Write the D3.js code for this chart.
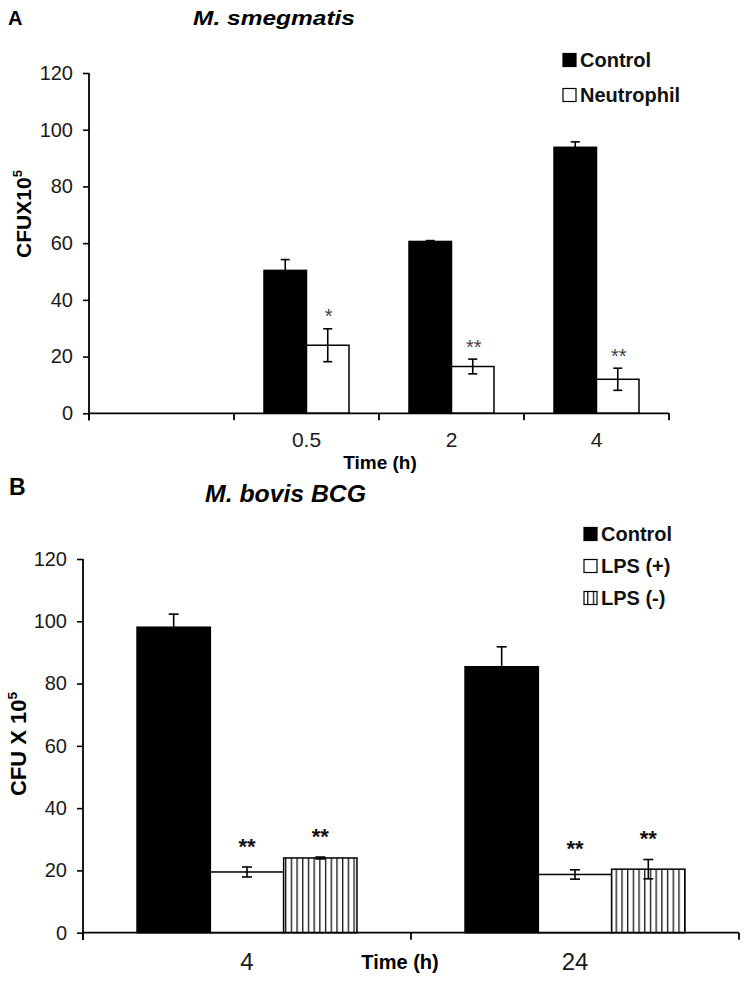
<!DOCTYPE html>
<html>
<head>
<meta charset="utf-8">
<script src="https://cdn.jsdelivr.net/npm/d3@7"></script>
<style>
  html, body { margin: 0; padding: 0; background: #fff; }
  svg { display: block; font-family: "Liberation Sans", Arial, sans-serif; }
</style>
</head>
<body>
<svg id="chart" width="747" height="983"></svg>
<script>
// ---------- Panel A data ----------
const timesA = ["", "0.5", "2", "4"];
const seriesA = ["Control", "Neutrophil"];
const controlA = [null, 50.4, 60.6, 93.8];
const controlErrA = [null, 3.8, 0.3, 1.9];
const neutrophilA = [null, 24.0, 16.5, 12.0];
const neutrophilErrA = [null, 5.8, 2.6, 3.9];
const sigNeutrophilA = ["", "*", "**", "**"];
const yTicksA = [0, 20, 40, 60, 80, 100, 120];

// ---------- Panel B data ----------
const timesB = ["4", "24"];
const seriesB = ["Control", "LPS (+)", "LPS (-)"];
const controlB = [98.1, 85.4];
const controlErrB = [4.2, 6.4];
const lpsPlusB = [19.5, 18.7];
const lpsPlusErrB = [1.6, 1.5];
const lpsMinusB = [24.0, 20.4];
const lpsMinusErrB = [0.3, 3.1];
const sigLpsPlusB = ["**", "**"];
const sigLpsMinusB = ["**", "**"];
const yTicksB = [0, 20, 40, 60, 80, 100, 120];

const svg = d3.select("#chart");
const defs = svg.append("defs");
const pat = defs.append("pattern")
  .attr("id", "vstripes").attr("patternUnits", "userSpaceOnUse")
  .attr("width", 5.7).attr("height", 10);
pat.append("rect").attr("width", 5.7).attr("height", 10).attr("fill", "#fff");
pat.append("line").attr("x1", 0.7).attr("x2", 0.7).attr("y1", 0).attr("y2", 10)
  .attr("stroke", "#000").attr("stroke-width", 1.2);

const fillFor = { "Control": "#000", "Neutrophil": "#fff", "LPS (+)": "#fff", "LPS (-)": "url(#vstripes)" };

function drawPanel(cfg) {
  const g = svg.append("g");
  const x0 = d3.scaleBand().domain(cfg.times).range([cfg.left, cfg.right]).paddingInner(0).paddingOuter(0);
  const x1 = d3.scaleBand().domain(cfg.series).range([0, x0.bandwidth()]).paddingInner(0).paddingOuter(cfg.outerPad);
  const y = d3.scaleLinear().domain([0, 120]).range([cfg.bottom, cfg.top]);

  // y axis
  const yAxis = d3.axisLeft(y).tickValues(cfg.yTicks).tickSize(6).tickSizeOuter(0).tickPadding(10);
  const ya = g.append("g").attr("transform", `translate(${cfg.left},0)`).call(yAxis);
  ya.select(".domain").remove();
  ya.selectAll(".tick line").attr("stroke", "#000").attr("stroke-width", 1.6);
  ya.selectAll(".tick text").attr("font-size", cfg.tickFont).attr("fill", "#1a1a1a");
  g.append("line").attr("x1", cfg.left).attr("x2", cfg.left)
    .attr("y1", y(120)).attr("y2", cfg.bottom + 7).attr("stroke", "#000").attr("stroke-width", 1.8);

  // bars
  cfg.times.forEach((t, i) => {
    cfg.data.forEach(s => {
      const v = s.values[i];
      if (v == null) return;
      const bx = x0(t) + x1(s.name);
      g.append("rect").attr("x", bx).attr("y", y(v))
        .attr("width", x1.bandwidth()).attr("height", y(0) - y(v))
        .attr("fill", fillFor[s.name]).attr("stroke", "#000").attr("stroke-width", 1.5);
    });
  });
  // error bars and significance
  cfg.times.forEach((t, i) => {
    cfg.data.forEach(s => {
      const v = s.values[i];
      if (v == null) return;
      const e = s.errs[i];
      const cx = x0(t) + x1(s.name) + x1.bandwidth() / 2;
      const col = "#000";
      g.append("line").attr("x1", cx).attr("x2", cx).attr("y1", y(v - e)).attr("y2", y(v + e))
        .attr("stroke", col).attr("stroke-width", 1.6);
      [v - e, v + e].forEach(yy => {
        g.append("line").attr("x1", cx - cfg.cap).attr("x2", cx + cfg.cap)
          .attr("y1", y(yy)).attr("y2", y(yy)).attr("stroke", col).attr("stroke-width", 1.6);
      });
      if (s.sig && s.sig[i]) {
        g.append("text").attr("x", cx + cfg.sigDx).attr("y", y(v + e) - cfg.sigOffset + cfg.sigFont * 0.57)
          .attr("text-anchor", "middle").attr("font-size", cfg.sigFont)
          .attr("font-weight", cfg.sigWeight).attr("fill", cfg.sigColor)
          .text(s.sig[i]);
      }
    });
  });

  // x axis line + ticks at band boundaries
  g.append("line").attr("x1", cfg.left).attr("x2", cfg.right)
    .attr("y1", cfg.bottom).attr("y2", cfg.bottom).attr("stroke", "#000").attr("stroke-width", 1.8);
  const bounds = cfg.times.map(t => x0(t)).concat([cfg.right]);
  bounds.forEach(bx => {
    g.append("line").attr("x1", bx).attr("x2", bx).attr("y1", cfg.bottom).attr("y2", cfg.bottom + 7)
      .attr("stroke", "#000").attr("stroke-width", 1.8);
  });
  const xAxis = d3.axisBottom(x0).tickSize(0).tickPadding(cfg.xLabelPad);
  const xa = g.append("g").attr("transform", `translate(0,${cfg.bottom})`).call(xAxis);
  xa.select(".domain").remove();
  xa.selectAll(".tick text").attr("font-size", cfg.xTickFont).attr("fill", "#1a1a1a");

  // axis titles
  g.append("text").attr("x", cfg.xTitleX).attr("y", cfg.xTitleY).attr("text-anchor", "middle")
    .attr("font-size", cfg.xTitleFont).attr("font-weight", "bold").text("Time (h)");
  const yt = g.append("text").attr("transform", `translate(${cfg.yTitleX},${cfg.yTitleY}) rotate(-90)`)
    .attr("text-anchor", "middle").attr("font-size", cfg.yTitleFont).attr("font-weight", "bold");
  yt.append("tspan").text(cfg.yTitle);
  yt.append("tspan").attr("font-size", cfg.yTitleFont * 0.62).attr("dy", -cfg.yTitleFont * 0.42).text("5");

  // panel letter & title
  g.append("text").attr("x", cfg.letterX).attr("y", cfg.letterY).attr("font-size", cfg.letterFont)
    .attr("font-weight", "bold").text(cfg.letter);
  g.append("text").attr("x", cfg.titleX).attr("y", cfg.titleY).attr("font-size", cfg.titleFont)
    .attr("font-weight", "bold").attr("font-style", "italic")
    .attr("textLength", cfg.titleLen).attr("lengthAdjust", "spacingAndGlyphs").text(cfg.title);

  // legend
  cfg.series.forEach((name, k) => {
    const cy = cfg.legendY + k * cfg.legendStep;
    g.append("rect").attr("x", cfg.legendX).attr("y", cy - 6.5).attr("width", 13).attr("height", 13)
      .attr("fill", fillFor[name]).attr("stroke", "#000").attr("stroke-width", 1.2);
    g.append("text").attr("x", cfg.legendX + 17).attr("y", cy + 7).attr("font-size", 20)
      .attr("font-weight", "bold").attr("fill", "#111").text(name);
  });
}

drawPanel({
  times: timesA, series: seriesA, yTicks: yTicksA,
  data: [
    { name: "Control", values: controlA, errs: controlErrA },
    { name: "Neutrophil", values: neutrophilA, errs: neutrophilErrA, sig: sigNeutrophilA }
  ],
  left: 89, right: 669, top: 73, bottom: 413.3, outerPad: 0.706, cap: 4.5,
  tickFont: 20, xTickFont: 21, xLabelPad: 19,
  sigOffset: 17, sigFont: 20, sigWeight: "normal", sigColor: "#444", sigDx: 1,
  xTitleX: 380, xTitleY: 469, xTitleFont: 19,
  yTitle: "CFUX10", yTitleX: 31, yTitleY: 214, yTitleFont: 21,
  letter: "A", letterX: 8, letterY: 25, letterFont: 20,
  title: "M. smegmatis", titleX: 193, titleY: 25, titleFont: 21, titleLen: 162,
  legendX: 563, legendY: 60, legendStep: 35
});

drawPanel({
  times: timesB, series: seriesB, yTicks: yTicksB,
  data: [
    { name: "Control", values: controlB, errs: controlErrB },
    { name: "LPS (+)", values: lpsPlusB, errs: lpsPlusErrB, sig: sigLpsPlusB },
    { name: "LPS (-)", values: lpsMinusB, errs: lpsMinusErrB, sig: sigLpsMinusB }
  ],
  left: 83, right: 739, top: 559, bottom: 932.7, outerPad: 0.737, cap: 5,
  tickFont: 20, xTickFont: 24, xLabelPad: 20,
  sigOffset: 26, sigFont: 22, sigWeight: "bold", sigColor: "#111", sigDx: 0,
  xTitleX: 400, xTitleY: 969, xTitleFont: 20,
  yTitle: "CFU X 10", yTitleX: 26, yTitleY: 744, yTitleFont: 22,
  letter: "B", letterX: 9, letterY: 495, letterFont: 23,
  title: "M. bovis BCG", titleX: 205, titleY: 502, titleFont: 24, titleLen: 161,
  legendX: 584, legendY: 534, legendStep: 32
});
</script>
</body>
</html>
